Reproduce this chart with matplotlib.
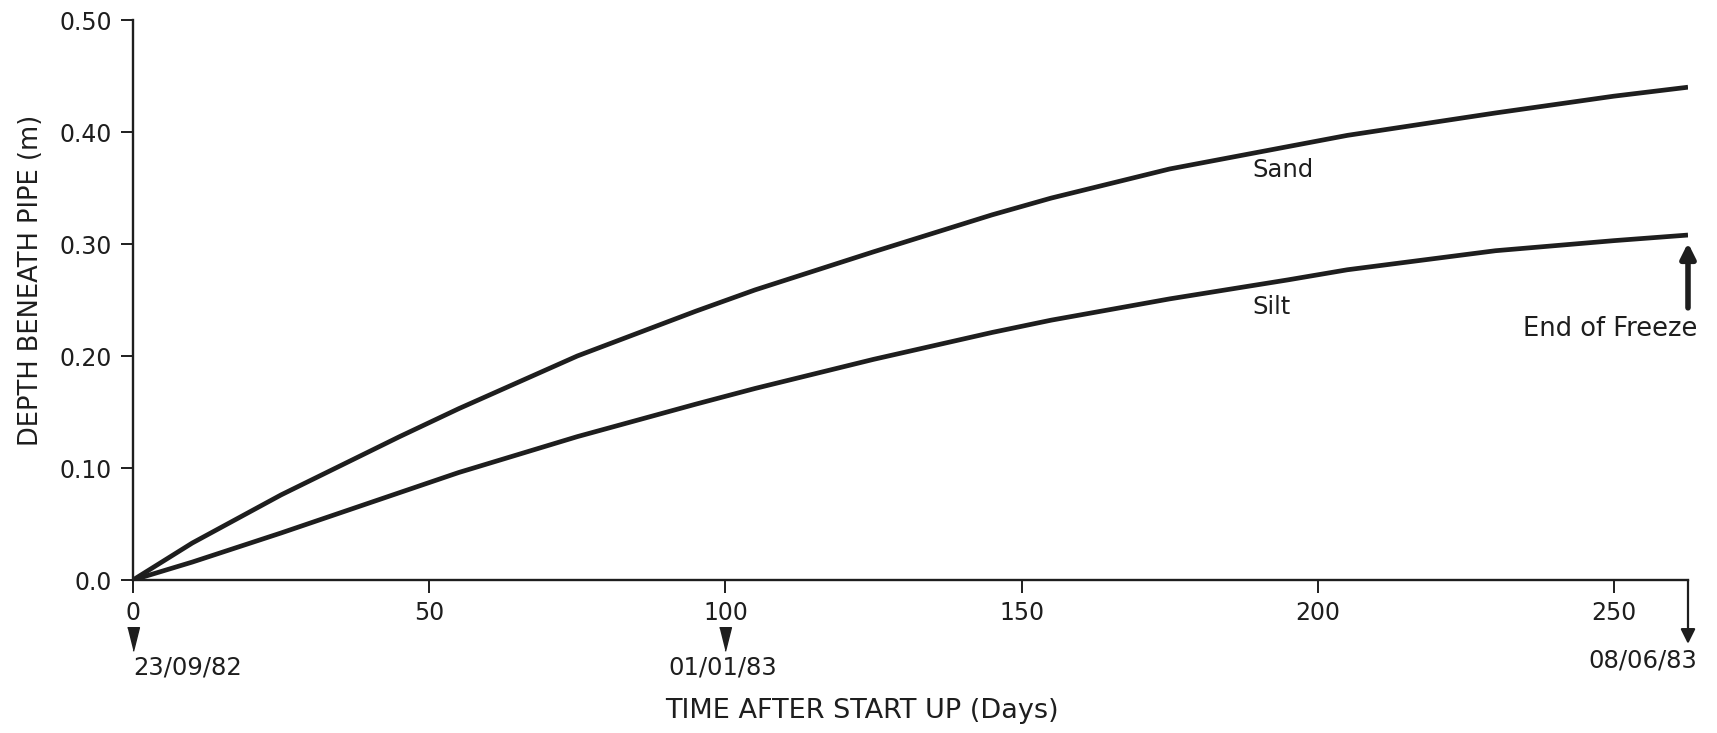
import matplotlib
matplotlib.use('Agg')
import matplotlib.pyplot as plt

plt.rcParams['font.family'] = ['DejaVu Sans']

# frost depth beneath the pipe
days = [0, 10, 25, 45, 55, 75, 95, 105, 125, 145, 155, 175, 195, 205, 230, 250, 262.5]
sand = [0.0, 0.033, 0.076, 0.128, 0.153, 0.200, 0.240, 0.259, 0.293, 0.326, 0.341, 0.367, 0.387, 0.397, 0.417, 0.432, 0.440]
silt = [0.0, 0.016, 0.042, 0.078, 0.096, 0.128, 0.157, 0.171, 0.197, 0.221, 0.232, 0.251, 0.268, 0.277, 0.294, 0.303, 0.308]

x_ticks = [0, 50, 100, 150, 200, 250]
y_ticks = [0.0, 0.1, 0.2, 0.3, 0.4, 0.5]
y_tick_labels = ['0.0', '0.10', '0.20', '0.30', '0.40', '0.50']

# calendar dates marked under the time axis
date_days = [0, 100, 262.5]
date_labels = ['23/09/82', '01/01/83', '08/06/83']
end_day = 262.5

ink = '#1e1e1e'

fig = plt.figure(figsize=(17.17, 7.33), dpi=100)
ax = fig.add_axes([0.07746, 0.20873, 0.90565, 0.76398])

ax.plot(days, sand, color=ink, lw=3.4, solid_capstyle='butt', solid_joinstyle='round')
ax.plot(days, silt, color=ink, lw=3.4, solid_capstyle='butt', solid_joinstyle='round')

ax.set_xlim(0, end_day)
ax.set_ylim(0, 0.5)
ax.set_xticks(x_ticks)
ax.set_yticks(y_ticks)
ax.set_yticklabels(y_tick_labels)
ax.tick_params(direction='out', length=9, width=1.4, color=ink,
               labelsize=17, labelcolor=ink, pad=6)
for side in ['top', 'right']:
    ax.spines[side].set_visible(False)
for side in ['left', 'bottom']:
    ax.spines[side].set_linewidth(1.7)
    ax.spines[side].set_color(ink)

ax.text(189.0, 0.366, 'Sand', fontsize=17.5, color=ink, va='center', ha='left')
ax.text(189.0, 0.244, 'Silt', fontsize=17.5, color=ink, va='center', ha='left')

# small triangles under the first two dates
tri = [(-0.25, 0.5), (0.25, 0.5), (0.0, -0.5)]
for d in date_days[:2]:
    ax.plot([d], [-0.053], marker=tri, markersize=17, color=ink,
            clip_on=False, linestyle='None')
ax.text(date_days[0], -0.078, date_labels[0], fontsize=17.5, color=ink,
        ha='left', va='center')
ax.text(date_days[1] - 0.5, -0.078, date_labels[1], fontsize=17.5, color=ink,
        ha='center', va='center')

# end of the time axis turns down into an arrow
ax.annotate('', xy=(end_day, -0.057), xytext=(end_day, 0.0),
            arrowprops=dict(arrowstyle='-|>', lw=1.6, color=ink,
                            mutation_scale=22, shrinkA=0, shrinkB=0),
            annotation_clip=False)
ax.text(end_day + 1.5, -0.072, date_labels[2], fontsize=17.5, color=ink,
        ha='right', va='center')

# end of freeze marker
ax.annotate('', xy=(end_day, 0.301), xytext=(end_day, 0.243),
            arrowprops=dict(arrowstyle='-|>', lw=4, color=ink,
                            mutation_scale=22, shrinkA=0, shrinkB=0),
            annotation_clip=False)
ax.text(end_day + 1.5, 0.224, 'End of Freeze', fontsize=18.5, color=ink,
        ha='right', va='center')

fig.text(0.502, 0.030, 'TIME AFTER START UP (Days)', fontsize=19.5, color=ink,
         ha='center', va='center')
fig.text(0.018, 0.617, 'DEPTH BENEATH PIPE (m)', fontsize=18.5, color=ink,
         ha='center', va='center', rotation=90)

fig.savefig('out.png', dpi=100, facecolor='white')
